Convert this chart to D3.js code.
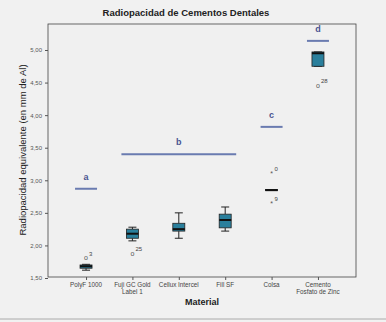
<!DOCTYPE html>
<html><head><meta charset="utf-8">
<script src="https://cdn.jsdelivr.net/npm/d3@7"></script>
<style>body{margin:0;background:#f1f1f1;}svg{display:block;font-family:Arial,"Liberation Sans",sans-serif;}</style>
</head><body>
<script>
const categories = ["PolyF 1000", "Fuji GC Gold|Label 1", "Cellux Intercel", "Fill SF", "Colsa", "Cemento|Fosfato de Zinc"];
const whiskerLow  = [1.62, 2.07, 2.11, 2.22, 2.85, 4.75];
const q1          = [1.65, 2.11, 2.22, 2.27, 2.84, 4.75];
const median      = [1.68, 2.18, 2.25, 2.39, 2.85, 4.95];
const q3          = [1.70, 2.25, 2.34, 2.48, 2.86, 4.97];
const whiskerHigh = [1.71, 2.28, 2.50, 2.59, 2.85, 4.97];
const outliers = [
  {cat: 0, value: 1.81, label: "3", kind: "o"},
  {cat: 1, value: 1.88, label: "25", kind: "o"},
  {cat: 4, value: 3.11, label: "0", kind: "*"},
  {cat: 4, value: 2.65, label: "9", kind: "*"},
  {cat: 5, value: 4.46, label: "28", kind: "o"}
];
const groupLetters = ["a", "b", "c", "d"];
const groupFrom    = [0, 1, 4, 5];
const groupTo      = [0, 3, 4, 5];
const groupLevel   = [2.87, 3.40, 3.82, 5.14];
const yTicks = [1.5, 2.0, 2.5, 3.0, 3.5, 4.0, 4.5, 5.0];

const W = 386, H = 322;
const svg = d3.select("body").append("svg").attr("width", W).attr("height", H);
const pL = 48, pR = 356, pT = 24, pB = 277;

const x = d3.scalePoint().domain(d3.range(categories.length)).range([pL, pR]).padding(0.82);
const y = d3.scaleLinear().domain([1.5, 5.0]).range([278, 50]);

// frame
svg.append("rect").attr("x", pL).attr("y", pT).attr("width", pR - pL).attr("height", pB - pT)
  .attr("fill", "#f0f0f0").attr("stroke", "#444").attr("stroke-width", 0.8);
svg.append("line").attr("x1", 0).attr("x2", W).attr("y1", 319).attr("y2", 319).attr("stroke", "#aaa");

// y axis
const yAxis = d3.axisLeft(y).tickValues(yTicks).tickSize(3).tickFormat(d => d3.format(".2f")(d).replace(".", ","));
const ya = svg.append("g").attr("transform", `translate(${pL},0)`).call(yAxis);
ya.select(".domain").remove();
ya.selectAll("text").attr("font-size", 6).attr("fill", "#555");
ya.selectAll("line").attr("stroke", "#555");

// x axis
const xa = svg.append("g").attr("transform", `translate(0,${pB})`).call(d3.axisBottom(x).tickSize(3).tickFormat(""));
xa.select(".domain").remove();
xa.selectAll("line").attr("stroke", "#555");
categories.forEach((c, i) => {
  const t = svg.append("text").attr("x", x(i)).attr("y", pB + 10).attr("text-anchor", "middle")
    .attr("font-size", 6.3).attr("fill", "#444");
  c.split("|").forEach((s, k) => t.append("tspan").attr("x", x(i)).attr("dy", k ? 7 : 0).text(s));
});

// boxes
const bw = 12;
categories.forEach((c, i) => {
  const cx = x(i);
  const g = svg.append("g");
  g.append("line").attr("x1", cx).attr("x2", cx).attr("y1", y(whiskerHigh[i])).attr("y2", y(q3[i])).attr("stroke", "#222");
  g.append("line").attr("x1", cx).attr("x2", cx).attr("y1", y(q1[i])).attr("y2", y(whiskerLow[i])).attr("stroke", "#222");
  [whiskerHigh[i], whiskerLow[i]].forEach(v => g.append("line").attr("x1", cx - 4).attr("x2", cx + 4)
    .attr("y1", y(v)).attr("y2", y(v)).attr("stroke", "#222"));
  g.append("rect").attr("x", cx - bw / 2).attr("y", y(q3[i])).attr("width", bw)
    .attr("height", Math.max(1, y(q1[i]) - y(q3[i]))).attr("fill", "#2a7f9c").attr("stroke", "#222").attr("stroke-width", 0.8);
  g.append("line").attr("x1", cx - bw / 2).attr("x2", cx + bw / 2).attr("y1", y(median[i])).attr("y2", y(median[i]))
    .attr("stroke", "#111").attr("stroke-width", 2);
});

// outliers
outliers.forEach(o => {
  const cx = x(o.cat), cy = y(o.value);
  svg.append("text").attr("x", cx).attr("y", cy + 2.5).attr("text-anchor", "middle").attr("font-size", 7).attr("fill", "#555")
    .text(o.kind === "o" ? "ο" : "*");
  svg.append("text").attr("x", cx + 3).attr("y", cy - 2).attr("font-size", 6).attr("fill", "#444").text(o.label);
});

// significance groups
groupLetters.forEach((l, k) => {
  const x1 = x(groupFrom[k]) - 11, x2 = x(groupTo[k]) + 11, yy = y(groupLevel[k]);
  svg.append("line").attr("x1", x1).attr("x2", x2).attr("y1", yy).attr("y2", yy).attr("stroke", "#6a7bb0").attr("stroke-width", 2);
  svg.append("text").attr("x", (x1 + x2) / 2).attr("y", yy - 9).attr("text-anchor", "middle").attr("font-size", 9)
    .attr("font-weight", "bold").attr("fill", "#4a5590").text(l);
});

// titles
svg.append("text").attr("x", 186).attr("y", 16).attr("text-anchor", "middle").attr("font-size", 9.5).attr("font-weight", "bold")
  .attr("fill", "#222").text("Radiopacidad de Cementos Dentales");
svg.append("text").attr("transform", "translate(26,150) rotate(-90)").attr("text-anchor", "middle").attr("font-size", 9.5)
  .attr("fill", "#222").text("Radiopacidad equivalente (en mm de Al)");
svg.append("text").attr("x", 202).attr("y", 305).attr("text-anchor", "middle").attr("font-size", 9).attr("font-weight", "bold")
  .attr("fill", "#222").text("Material");
</script>
</body></html>
